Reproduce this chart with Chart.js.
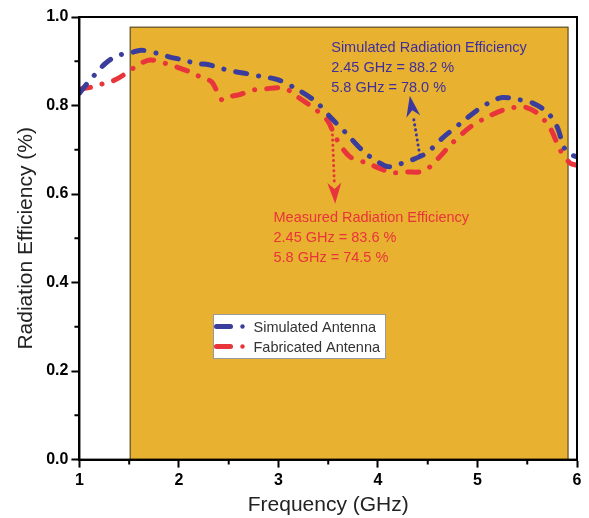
<!DOCTYPE html>
<html>
<head>
<meta charset="utf-8">
<script src="https://cdn.jsdelivr.net/npm/chart.js@4"></script>
<style>
  html, body { margin: 0; padding: 0; background: #fff; }
  #chart { display: block; }
</style>
</head>
<body>
<canvas id="chart" width="589" height="518"></canvas>
<script>
/* ------------------------------------------------ */
// efficiency curves (frequency in GHz, efficiency as fraction)

const simFreq = [1.0, 1.09, 1.18, 1.26, 1.38, 1.5, 1.62, 1.78, 1.9, 2.02, 2.18, 2.3, 2.42, 2.55, 2.68, 2.82, 3.0, 3.2, 3.38, 3.52, 3.67, 3.85, 3.97, 4.1, 4.22, 4.34, 4.49, 4.65, 4.83, 5.0, 5.13, 5.25, 5.4, 5.55, 5.7, 5.8, 5.87, 5.93, 6.0];
const simEff = [0.828, 0.853, 0.876, 0.895, 0.913, 0.918, 0.925, 0.918, 0.910, 0.904, 0.895, 0.892, 0.884, 0.877, 0.872, 0.866, 0.858, 0.835, 0.808, 0.774, 0.740, 0.697, 0.677, 0.662, 0.668, 0.677, 0.693, 0.727, 0.760, 0.790, 0.808, 0.818, 0.814, 0.806, 0.785, 0.752, 0.705, 0.690, 0.684];

const measFreq = [1.0, 1.13, 1.26, 1.36, 1.49, 1.59, 1.71, 1.85, 1.98, 2.11, 2.21, 2.33, 2.43, 2.5, 2.6, 2.75, 2.88, 3.0, 3.1, 3.19, 3.35, 3.49, 3.59, 3.72, 3.89, 4.05, 4.15, 4.29, 4.42, 4.52, 4.62, 4.75, 4.93, 5.1, 5.26, 5.46, 5.6, 5.73, 5.83, 5.93, 6.0];
const measEff = [0.837, 0.842, 0.851, 0.858, 0.876, 0.892, 0.903, 0.896, 0.887, 0.876, 0.865, 0.853, 0.813, 0.82, 0.824, 0.835, 0.838, 0.840, 0.835, 0.820, 0.795, 0.767, 0.722, 0.684, 0.670, 0.655, 0.648, 0.650, 0.650, 0.661, 0.684, 0.716, 0.752, 0.774, 0.790, 0.797, 0.783, 0.749, 0.700, 0.670, 0.665];

const seriesNames = ['Simulated Antenna', 'Fabricated Antenna'];
const xTicks = [1, 2, 3, 4, 5, 6];
const yTicks = [0.0, 0.2, 0.4, 0.6, 0.8, 1.0];

// highlighted band (GHz) and its height
const band = [1.51, 5.91];
const bandTop = 0.977;

const simNote = ['Simulated Radiation Efficiency', '2.45 GHz = 88.2 %', '5.8 GHz = 78.0 %'];
const measNote = ['Measured Radiation Efficiency', '2.45 GHz = 83.6 %', '5.8 GHz = 74.5 %'];

const BLUE = '#3b3d9d';
const RED = '#e8343b';
const GOLD = '#e9b130';
const FONT = '"Liberation Sans", Arial, sans-serif';

/* ------------------------------------------------ */

function toPoints(xs, ys) {
  return xs.map((x, i) => ({ x: x, y: ys[i] }));
}

function lineStyle(color) {
  return {
    borderColor: color,
    backgroundColor: color,
    borderWidth: 5,
    borderDash: [11, 12, 0.1, 12],
    borderCapStyle: 'round',
    borderJoinStyle: 'round',
    pointRadius: 0,
    tension: 0.3,
    fill: false,
  };
}

function drawArrow(ctx, x0, y0, x1, y1, color) {
  let ang = Math.atan2(y1 - y0, x1 - x0);
  let head = 21;
  let bx = x1 - Math.cos(ang) * head;
  let by = y1 - Math.sin(ang) * head;
  ctx.save();
  ctx.strokeStyle = color;
  ctx.fillStyle = color;
  ctx.lineWidth = 3;
  ctx.lineCap = 'round';
  ctx.setLineDash([0.1, 5]);
  ctx.beginPath();
  ctx.moveTo(x0, y0);
  ctx.lineTo(bx, by);
  ctx.stroke();
  ctx.setLineDash([]);
  let w = 7;
  ctx.beginPath();
  ctx.moveTo(x1, y1);
  ctx.lineTo(bx + Math.sin(ang) * w, by - Math.cos(ang) * w);
  ctx.lineTo(x1 - Math.cos(ang) * head * 0.7, y1 - Math.sin(ang) * head * 0.7);
  ctx.lineTo(bx - Math.sin(ang) * w, by + Math.cos(ang) * w);
  ctx.closePath();
  ctx.fill();
  ctx.restore();
}

function drawNote(ctx, sx, sy, x, y, lines, color) {
  ctx.save();
  ctx.fillStyle = color;
  ctx.font = '14.5px ' + FONT;
  ctx.textBaseline = 'middle';
  lines.forEach((t, i) => {
    ctx.fillText(t, sx.getPixelForValue(x), sy.getPixelForValue(y) + i * 20);
  });
  ctx.restore();
}

/* ------------------------------------------------ */

const bandPlugin = {
  id: 'band',
  beforeDatasetsDraw(chart) {
    let ctx = chart.ctx;
    let sx = chart.scales.x;
    let sy = chart.scales.y;
    let x0 = sx.getPixelForValue(band[0]);
    let x1 = sx.getPixelForValue(band[1]);
    let y0 = sy.getPixelForValue(0);
    let y1 = sy.getPixelForValue(bandTop);
    ctx.save();
    ctx.fillStyle = GOLD;
    ctx.fillRect(x0, y1, x1 - x0, y0 - y1);
    ctx.strokeStyle = '#5a4a22';
    ctx.lineWidth = 1.2;
    ctx.strokeRect(x0, y1, x1 - x0, y0 - y1);
    ctx.restore();
  },
};

const notesPlugin = {
  id: 'notes',
  afterDatasetsDraw(chart) {
    let ctx = chart.ctx;
    let sx = chart.scales.x;
    let sy = chart.scales.y;
    let px = (v) => sx.getPixelForValue(v);
    let py = (v) => sy.getPixelForValue(v);

    drawArrow(ctx, px(4.42), py(0.688), px(4.32), py(0.822), '#3c37a0');
    drawArrow(ctx, px(3.54), py(0.745), px(3.57), py(0.578), RED);

    drawNote(ctx, sx, sy, 3.53, 0.93, simNote, '#3f2f9c');
    drawNote(ctx, sx, sy, 2.95, 0.546, measNote, RED);
  },
  afterDraw(chart) {
    let ctx = chart.ctx;
    let a = chart.chartArea;
    let sx = chart.scales.x;
    let sy = chart.scales.y;

    // minor ticks
    ctx.save();
    ctx.strokeStyle = '#000';
    ctx.lineWidth = 2;
    ctx.beginPath();
    for (let v = 1.5; v < 6; v += 1) {
      let x = sx.getPixelForValue(v);
      ctx.moveTo(x, a.bottom);
      ctx.lineTo(x, a.bottom + 5);
    }
    for (let v = 0.1; v < 1; v += 0.2) {
      let y = sy.getPixelForValue(v);
      ctx.moveTo(a.left, y);
      ctx.lineTo(a.left - 5, y);
    }
    ctx.stroke();

    // frame
    ctx.lineWidth = 2;
    ctx.strokeRect(a.left, a.top, a.right - a.left, a.bottom - a.top);
    ctx.restore();

    // legend box
    let lx = Math.round(sx.getPixelForValue(2.345)) + 0.5;
    let ly = Math.round(sy.getPixelForValue(0.329)) + 0.5;
    let lw = 172;
    let lh = 44;
    ctx.save();
    ctx.fillStyle = '#fff';
    ctx.fillRect(lx, ly, lw, lh);
    ctx.strokeStyle = '#9a9a9a';
    ctx.lineWidth = 1;
    ctx.strokeRect(lx, ly, lw, lh);
    ctx.font = '14.5px ' + FONT;
    ctx.textBaseline = 'middle';
    [BLUE, RED].forEach((c, i) => {
      let y = ly + 12 + i * 20;
      ctx.strokeStyle = c;
      ctx.fillStyle = c;
      ctx.lineWidth = 5;
      ctx.lineCap = 'round';
      ctx.beginPath();
      ctx.moveTo(lx + 3, y);
      ctx.lineTo(lx + 17, y);
      ctx.stroke();
      ctx.beginPath();
      ctx.arc(lx + 29, y, 2.2, 0, Math.PI * 2);
      ctx.fill();
      ctx.fillStyle = '#333';
      ctx.fillText(seriesNames[i], lx + 40, y + 1);
    });
    ctx.restore();
  },
};

/* ------------------------------------------------ */

function generateChart() {
  let ctx = document.getElementById('chart').getContext('2d');
  let tickFont = { family: FONT, size: 16, weight: 'bold' };
  let titleFont = { family: FONT, size: 21 };

  return new Chart(ctx, {
    type: 'line',
    data: {
      datasets: [
        Object.assign({ label: seriesNames[0], data: toPoints(simFreq, simEff) }, lineStyle(BLUE)),
        Object.assign({ label: seriesNames[1], data: toPoints(measFreq, measEff) }, lineStyle(RED)),
      ],
    },
    options: {
      responsive: false,
      animation: false,
      layout: { padding: { top: 17, right: 12, left: 9, bottom: 0 } },
      plugins: {
        legend: { display: false },
        tooltip: { enabled: false },
      },
      scales: {
        x: {
          type: 'linear',
          min: 1,
          max: 6,
          afterBuildTicks: (ax) => { ax.ticks = xTicks.map((v) => ({ value: v })); },
          ticks: { font: tickFont, color: '#000', padding: 3, callback: (v) => String(v) },
          grid: { drawOnChartArea: false, tickLength: 8, tickColor: '#000', tickWidth: 2 },
          border: { color: '#000', width: 2 },
          title: { display: true, text: 'Frequency (GHz)', font: titleFont, color: '#222', padding: { top: 0, bottom: 0 } },
        },
        y: {
          min: 0,
          max: 1,
          afterBuildTicks: (ax) => { ax.ticks = yTicks.map((v) => ({ value: v })); },
          ticks: { font: tickFont, color: '#000', padding: 3, callback: (v) => v.toFixed(1) },
          grid: { drawOnChartArea: false, tickLength: 8, tickColor: '#000', tickWidth: 2 },
          border: { color: '#000', width: 2 },
          title: { display: true, text: 'Radiation Efficiency (%)', font: titleFont, color: '#222', padding: { top: 5, bottom: 4 } },
        },
      },
    },
    plugins: [bandPlugin, notesPlugin],
  });
}

let chart = generateChart();
</script>
</body>
</html>
